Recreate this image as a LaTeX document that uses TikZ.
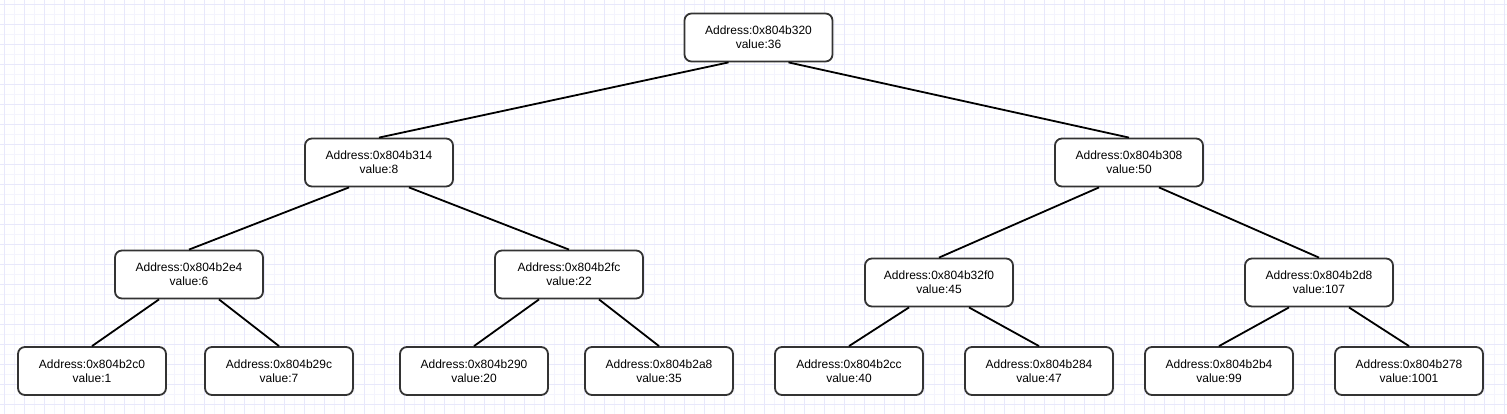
\documentclass[tikz,border=0pt]{standalone}
\usepackage{fontspec}
\setmainfont{Liberation Sans}
\usetikzlibrary{calc}
\definecolor{gridminor}{RGB}{244,244,253}
\definecolor{gridmajor}{RGB}{232,232,251}
\definecolor{boxline}{RGB}{51,51,51}
\tikzset{
  memnode/.style={draw=boxline, line width=1.8pt, fill=white, rounded corners=7pt,
    minimum width=148pt, minimum height=48pt, inner sep=0pt, align=center,
    font=\fontsize{12}{14}\selectfont},
  link/.style={line width=1.8pt, black},
}

\begin{document}
\begin{tikzpicture}[x=1pt,y=-1pt]
  \useasboundingbox (0,0) rectangle (1507,414);
  % --- background grid ---
  \foreach \gx in {4,14,...,1504} {\draw[gridminor, line width=0.8pt] (\gx,0) -- (\gx,414);}
  \foreach \gy in {4,14,...,414} {\draw[gridminor, line width=0.8pt] (0,\gy) -- (1507,\gy);}
  \foreach \gx in {4,24,...,1504} {\draw[gridmajor, line width=0.8pt] (\gx,0) -- (\gx,414);}
  \foreach \gy in {4,24,...,414} {\draw[gridmajor, line width=0.8pt] (0,\gy) -- (1507,\gy);}
  % --- root ---
  \node[memnode] (n320) at (758.5,37.5) {Address:0x804b320\\value:36};
  % --- level 1 ---
  \node[memnode] (n314) at (379,162.5) {Address:0x804b314\\value:8};
  \node[memnode] (n308) at (1129,162.5) {Address:0x804b308\\value:50};
  % --- level 2 ---
  \node[memnode] (n2e4) at (189,274.5) {Address:0x804b2e4\\value:6};
  \node[memnode] (n2fc) at (569,274.5) {Address:0x804b2fc\\value:22};
  \node[memnode] (n32f0) at (939,282.5) {Address:0x804b32f0\\value:45};
  \node[memnode] (n2d8) at (1319,282.5) {Address:0x804b2d8\\value:107};
  % --- leaves ---
  \node[memnode] (n2c0) at (92,371) {Address:0x804b2c0\\value:1};
  \node[memnode] (n29c) at (279,371) {Address:0x804b29c\\value:7};
  \node[memnode] (n290) at (474,371) {Address:0x804b290\\value:20};
  \node[memnode] (n2a8) at (659,371) {Address:0x804b2a8\\value:35};
  \node[memnode] (n2cc) at (849,371) {Address:0x804b2cc\\value:40};
  \node[memnode] (n284) at (1039,371) {Address:0x804b284\\value:47};
  \node[memnode] (n2b4) at (1219,371) {Address:0x804b2b4\\value:99};
  \node[memnode] (n278) at (1409,371) {Address:0x804b278\\value:1001};
  % --- links ---
  \foreach \up/\kid/\pos in {n320/n314/0.3, n320/n308/0.7,
      n314/n2e4/0.3, n314/n2fc/0.7, n308/n32f0/0.3, n308/n2d8/0.7,
      n2e4/n2c0/0.3, n2e4/n29c/0.7, n2fc/n290/0.3, n2fc/n2a8/0.7,
      n32f0/n2cc/0.3, n32f0/n284/0.7, n2d8/n2b4/0.3, n2d8/n278/0.7} {
    \draw[link] ($(\up.south west)!\pos!(\up.south east)$) -- (\kid.north);
  }
\end{tikzpicture}
\end{document}
